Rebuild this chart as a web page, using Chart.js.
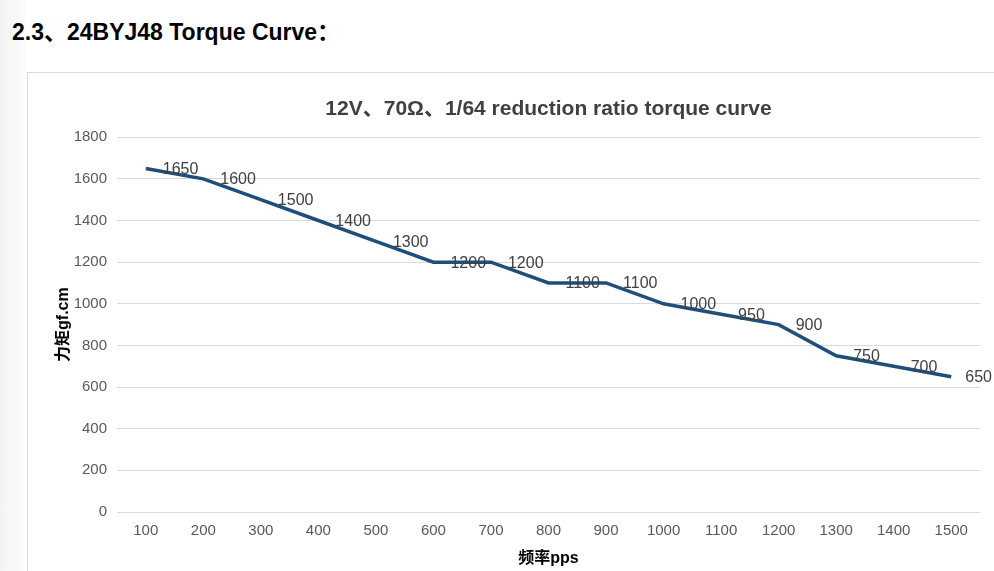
<!DOCTYPE html>
<html>
<head>
<meta charset="utf-8">
<script src="https://cdn.jsdelivr.net/npm/chart.js@4.4.0/dist/chart.umd.min.js"></script>
<style>
  html, body { margin: 0; padding: 0; background: #fff; overflow: hidden; }
  body { width: 994px; height: 571px; position: relative;
         background: linear-gradient(to right, #f4f4f4 0px, #fafafa 20px, #fff 27px); }
  h2 { position: absolute; left: 12px; top: 13px; margin: 0;
       font: bold 23px "Liberation Sans", Arial, "Noto Sans CJK SC", sans-serif; color: #000; }
  #box { position: absolute; left: 27px; top: 72px; width: 1040px; height: 510px;
         border: 1px solid #d9d9d9; background: #fff; }
  #wrap { position: absolute; left: 0; top: 0; width: 1034px; height: 499px; }
</style>
</head>
<body>
<h2>2.3、24BYJ48 Torque Curve：</h2>
<div id="box"><div id="wrap"><canvas id="torqueChart"></canvas></div></div>
<script>
const speeds = ["100", "200", "300", "400", "500", "600", "700", "800", "900", "1000", "1100", "1200", "1300", "1400", "1500"];
const torque = [1650, 1600, 1500, 1400, 1300, 1200, 1200, 1100, 1100, 1000, 950, 900, 750, 700, 650];

const fontFamily = '"Liberation Sans", Arial, "Noto Sans CJK SC", sans-serif';
const visibleWidth = 966; // part of the canvas inside the window

// value labels to the right of each point
const pointLabels = {
  id: "pointLabels",
  afterDatasetsDraw(chart) {
    const ctx = chart.ctx;
    const meta = chart.getDatasetMeta(0);
    ctx.save();
    ctx.font = "16px " + fontFamily;
    ctx.fillStyle = "#404040";
    ctx.textAlign = "left";
    ctx.textBaseline = "middle";
    meta.data.forEach((pt, i) => {
      const txt = String(torque[i]);
      const w = ctx.measureText(txt).width;
      const x = Math.min(pt.x + 17, visibleWidth - w - 2);
      ctx.fillText(txt, x, pt.y + 1);
    });
    ctx.restore();
  }
};

const ctx = document.getElementById("torqueChart").getContext("2d");
new Chart(ctx, {
  type: "line",
  data: {
    labels: speeds,
    datasets: [{
      data: torque,
      borderColor: "#1F4E79",
      backgroundColor: "#1F4E79",
      borderWidth: 3.5,
      pointRadius: 0,
      tension: 0,
      fill: false,
    }]
  },
  options: {
    responsive: true,
    maintainAspectRatio: false,
    animation: false,
    layout: { padding: { left: 0, right: 82, top: 0, bottom: 0 } },
    plugins: {
      legend: { display: false },
      tooltip: { enabled: false },
      title: {
        display: true,
        fullSize: false,
        text: "12V、70Ω、1/64 reduction ratio torque curve",
        color: "#404040",
        font: { family: fontFamily, size: 21, weight: "bold" },
        padding: { top: 24, bottom: 15 },
      },
    },
    scales: {
      x: {
        offset: true,
        grid: { display: false },
        border: { display: false },
        ticks: { color: "#595959", font: { family: fontFamily, size: 15 }, padding: 2, maxRotation: 0 },
        title: {
          display: true,
          text: "频率pps",
          color: "#000",
          font: { family: fontFamily, size: 16, weight: "bold" },
          padding: { top: 4, bottom: 4 },
        },
        afterFit(scale) { scale.height = 60; },
      },
      y: {
        min: 0,
        max: 1800,
        ticks: {
          stepSize: 200,
          color: "#595959",
          font: { family: fontFamily, size: 15 },
          padding: 10,
          callback: (v) => String(v),
        },
        grid: { color: "#d9d9d9", lineWidth: 1, drawTicks: false },
        border: { display: false },
        title: {
          display: true,
          text: "力矩gf.cm",
          color: "#000",
          font: { family: fontFamily, size: 16, weight: "bold" },
          padding: { top: 26, bottom: 0 },
        },
        afterFit(scale) { scale.width = 89; },
      },
    },
  },
  plugins: [pointLabels],
});
</script>
</body>
</html>
